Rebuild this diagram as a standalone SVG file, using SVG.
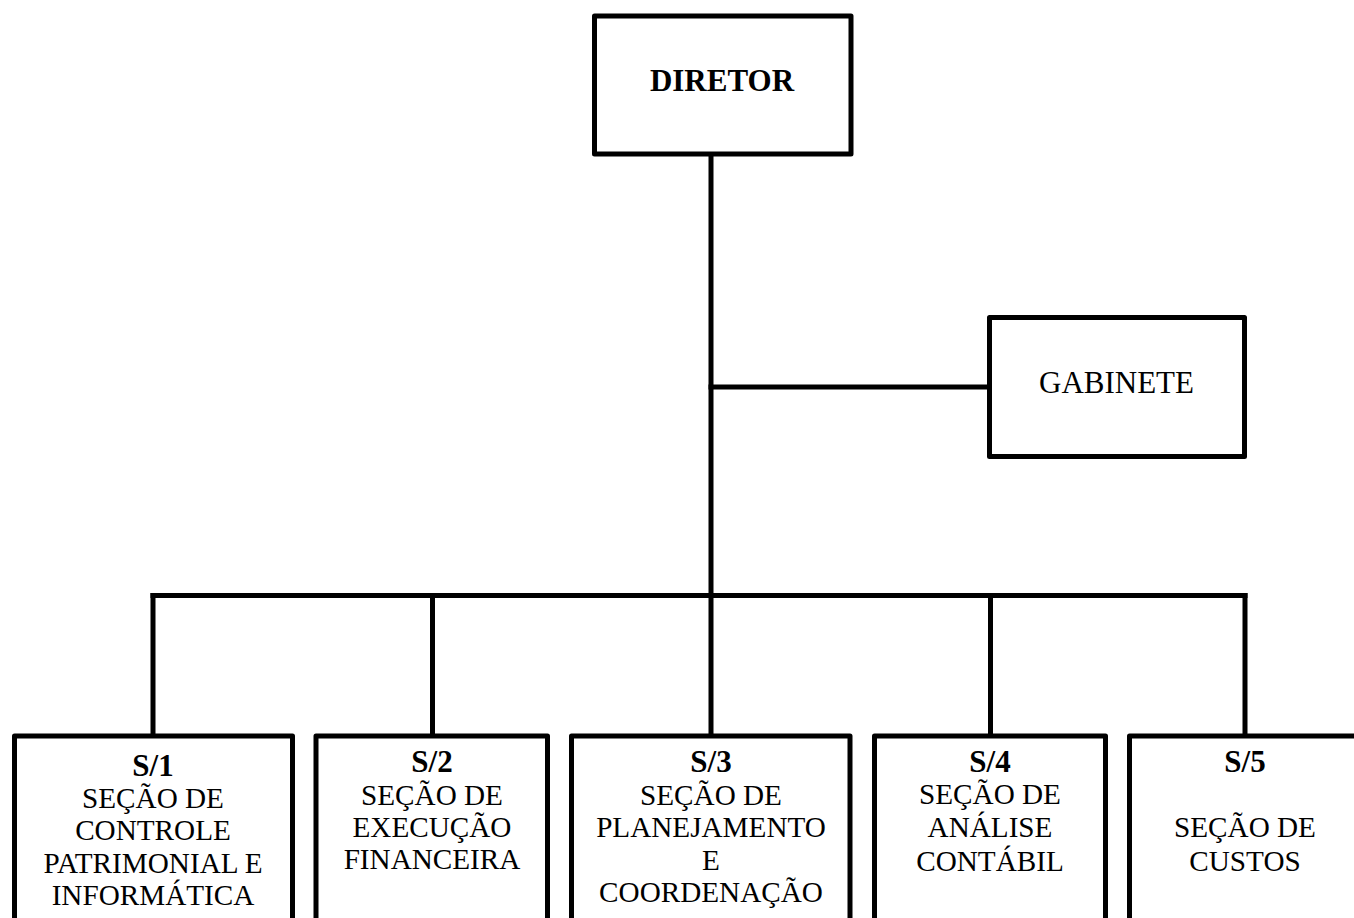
<svg xmlns="http://www.w3.org/2000/svg" width="1354" height="918" viewBox="0 0 1354 918">
<style>
.box{fill:#fff;stroke:#000;stroke-width:5;stroke-linejoin:round}
.ln{stroke:#000;stroke-width:5;fill:none;stroke-linecap:square}
text{font-family:"Liberation Serif","Times New Roman",serif;fill:#000;text-anchor:middle}
.b{font-weight:bold;font-size:31px}
.r{font-size:29.2px}
.g{font-size:31px}
</style>
<rect width="1354" height="918" fill="#fff"/>
<g id="connectors">
<line class="ln" x1="711" y1="156" x2="711" y2="595.5"/>
<line class="ln" x1="711" y1="387" x2="988" y2="387"/>
<line class="ln" x1="153" y1="595.5" x2="1245" y2="595.5"/>
<line class="ln" x1="153" y1="595.5" x2="153" y2="734"/>
<line class="ln" x1="432.5" y1="595.5" x2="432.5" y2="734"/>
<line class="ln" x1="711" y1="595.5" x2="711" y2="734"/>
<line class="ln" x1="990.5" y1="595.5" x2="990.5" y2="734"/>
<line class="ln" x1="1245" y1="595.5" x2="1245" y2="734"/>
</g>
<g id="diretor">
<rect class="box" x="594.5" y="16" width="256.5" height="138"/>
<text class="b" x="722" y="91">DIRETOR</text>
</g>
<g id="gabinete">
<rect class="box" x="989.5" y="317.5" width="255" height="139"/>
<text class="g" x="1116.5" y="393">GABINETE</text>
</g>
<g id="s1">
<rect class="box" x="14.5" y="736" width="278" height="230"/>
<text class="b" x="153" y="776">S/1</text>
<text class="r" x="153" y="808">SEÇÃO DE</text>
<text class="r" x="153" y="840">CONTROLE</text>
<text class="r" x="153" y="873">PATRIMONIAL E</text>
<text class="r" x="153" y="905">INFORMÁTICA</text>
</g>
<g id="s2">
<rect class="box" x="316" y="736" width="231.5" height="230"/>
<text class="b" x="432" y="772">S/2</text>
<text class="r" x="432" y="805">SEÇÃO DE</text>
<text class="r" x="432" y="837">EXECUÇÃO</text>
<text class="r" x="432" y="869">FINANCEIRA</text>
</g>
<g id="s3">
<rect class="box" x="571.5" y="736" width="278.5" height="230"/>
<text class="b" x="711" y="772">S/3</text>
<text class="r" x="711" y="805">SEÇÃO DE</text>
<text class="r" x="711" y="837">PLANEJAMENTO</text>
<text class="r" x="711" y="870">E</text>
<text class="r" x="711" y="902">COORDENAÇÃO</text>
</g>
<g id="s4">
<rect class="box" x="874.5" y="736" width="231" height="230"/>
<text class="b" x="990" y="772">S/4</text>
<text class="r" x="990" y="804">SEÇÃO DE</text>
<text class="r" x="990" y="837">ANÁLISE</text>
<text class="r" x="990" y="871">CONTÁBIL</text>
</g>
<g id="s5">
<rect class="box" x="1129.5" y="736" width="300" height="230"/>
<text class="b" x="1245" y="772">S/5</text>
<text class="r" x="1245" y="837">SEÇÃO DE</text>
<text class="r" x="1245" y="871">CUSTOS</text>
</g>
</svg>
